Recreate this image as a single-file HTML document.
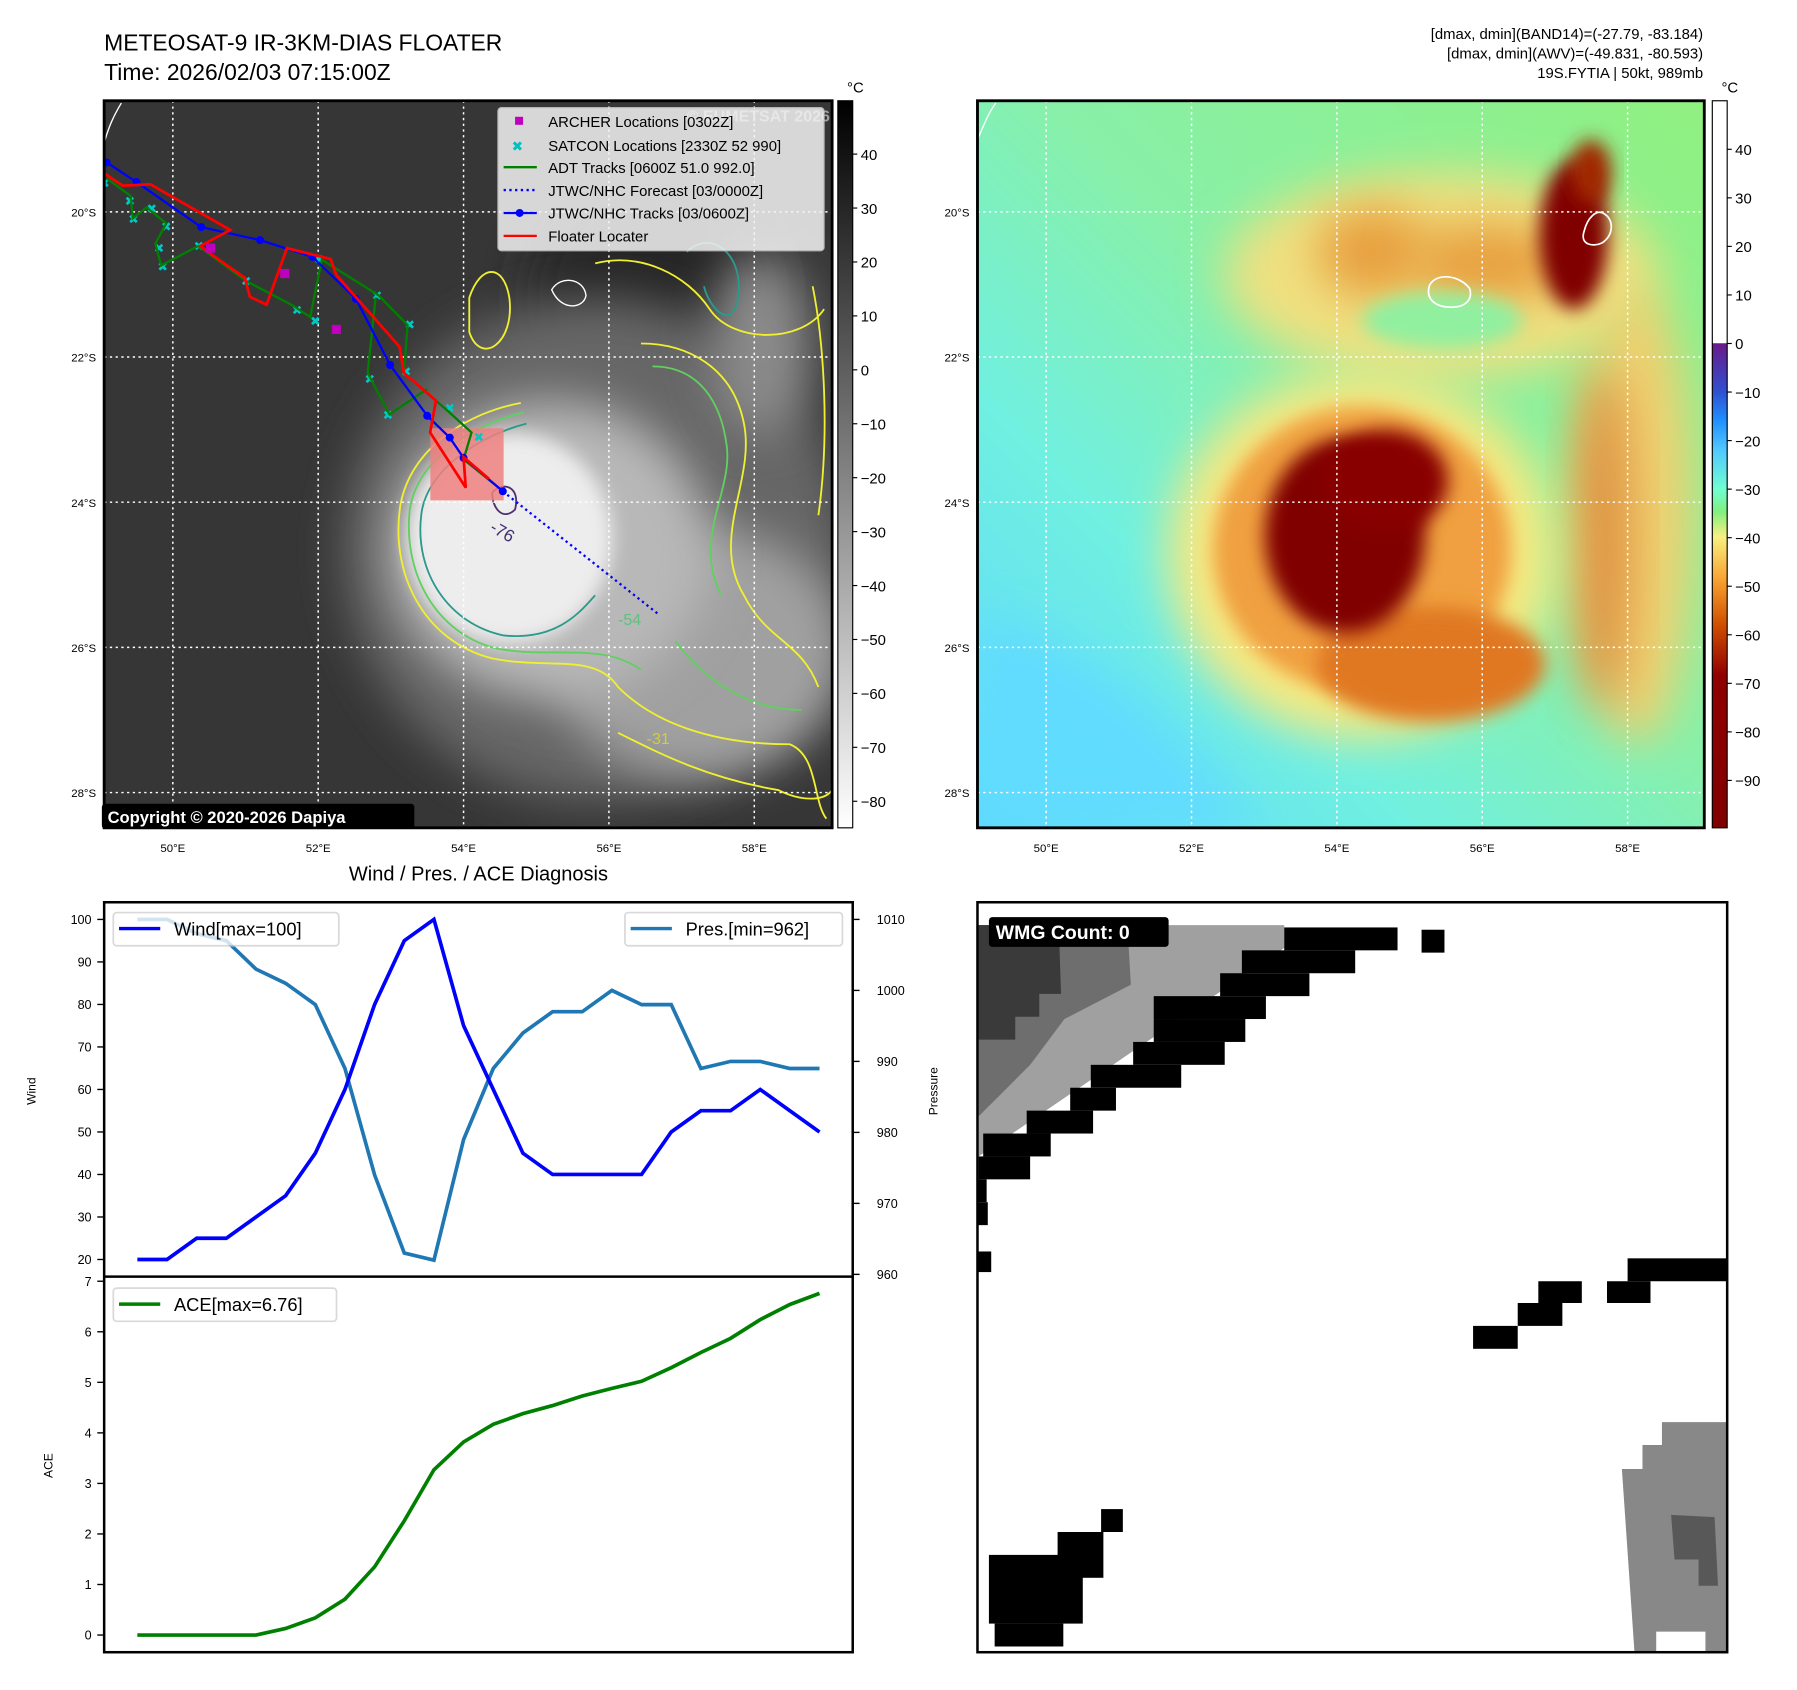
<!DOCTYPE html>
<html><head><meta charset="utf-8"><style>
html,body{margin:0;padding:0;background:#fff}
svg{display:block}
text{font-family:"Liberation Sans","DejaVu Sans",sans-serif}
</style></head><body>
<svg id="root" xmlns="http://www.w3.org/2000/svg" width="1797" height="1690" viewBox="0 0 1570 1476" preserveAspectRatio="none">
<defs>
<filter id="b8" x="-30%" y="-30%" width="160%" height="160%"><feGaussianBlur stdDeviation="8"/></filter>
<filter id="b20" x="-50%" y="-50%" width="200%" height="200%"><feGaussianBlur stdDeviation="20"/></filter>
<filter id="b4"><feGaussianBlur stdDeviation="4"/></filter>
<clipPath id="cl"><rect x="91" y="88" width="636" height="635"/></clipPath>
<clipPath id="cr"><rect x="854" y="88" width="635" height="635"/></clipPath>
<clipPath id="cb"><rect x="854" y="788" width="655" height="655"/></clipPath>
<linearGradient id="gbar" x1="0" y1="0" x2="0" y2="1"><stop offset="0" stop-color="#000"/><stop offset="1" stop-color="#fff"/></linearGradient>
<linearGradient id="cbar" x1="0" y1="88" x2="0" y2="723" gradientUnits="userSpaceOnUse">
<stop offset="0" stop-color="#fff"/><stop offset="0.333" stop-color="#fff"/><stop offset="0.334" stop-color="#6a1a8a"/>
<stop offset="0.40" stop-color="#3050d0"/><stop offset="0.44" stop-color="#2090ff"/><stop offset="0.48" stop-color="#50c8ff"/>
<stop offset="0.535" stop-color="#70ffd0"/><stop offset="0.565" stop-color="#80f080"/><stop offset="0.60" stop-color="#f8f080"/>
<stop offset="0.66" stop-color="#f8a030"/><stop offset="0.72" stop-color="#d05000"/><stop offset="0.79" stop-color="#900000"/><stop offset="1" stop-color="#800000"/></linearGradient>
<linearGradient id="rbg" x1="1" y1="0" x2="0" y2="1"><stop offset="0" stop-color="#90f080"/><stop offset="0.45" stop-color="#88f0a8"/><stop offset="0.7" stop-color="#70f0e0"/><stop offset="1" stop-color="#5ed8ff"/></linearGradient>
</defs>

<text x="91" y="44" font-size="20">METEOSAT-9 IR-3KM-DIAS FLOATER</text>
<text x="91" y="70" font-size="20">Time: 2026/02/03 07:15:00Z</text>
<g font-size="13" text-anchor="end">
<text x="1488" y="34">[dmax, dmin](BAND14)=(-27.79, -83.184)</text>
<text x="1488" y="51">[dmax, dmin](AWV)=(-49.831, -80.593)</text>
<text x="1488" y="68">19S.FYTIA | 50kt, 989mb</text>
</g>

<!-- LEFT MAP -->
<g clip-path="url(#cl)">
<rect x="91" y="88" width="636" height="635" fill="#363636"/>
<ellipse cx="570" cy="260" rx="110" ry="110" fill="#282828" filter="url(#b20)"/>
<ellipse cx="520" cy="480" rx="220" ry="220" fill="#666" filter="url(#b20)"/>
<ellipse cx="610" cy="570" rx="130" ry="110" fill="#a0a0a0" filter="url(#b20)"/>
<ellipse cx="480" cy="480" rx="140" ry="130" fill="#b8b8b8" filter="url(#b20)"/>
<ellipse cx="445" cy="470" rx="90" ry="92" fill="#ededed" filter="url(#b8)"/>
<ellipse cx="665" cy="300" rx="45" ry="80" fill="#8a8a8a" filter="url(#b20)"/>
<g fill="none" stroke-width="1.6">
<path d="M455,352 C410,360 360,390 350,440 C340,500 370,560 430,575 C480,585 520,570 540,600 C570,630 620,650 690,650 C715,660 710,700 722,715" stroke="#f0f030"/>
<path d="M458,360 C415,370 365,400 358,445 C352,500 380,552 432,566 C480,576 525,560 560,585" stroke="#60d060"/>
<path d="M460,370 C420,380 372,410 368,450 C362,500 392,545 440,555 C490,560 510,530 520,520" stroke="#2a9a8a"/>
<path d="M520,230 C560,220 600,240 620,270 C640,300 700,300 720,270" stroke="#f0f030"/>
<path d="M410,260 C420,230 440,230 445,260 C450,300 420,320 410,290 Z" stroke="#f0f030"/>
<path d="M560,300 C600,300 640,320 650,370 C660,420 620,470 650,520 C670,560 700,560 715,600" stroke="#f0f030"/>
<path d="M570,320 C610,320 630,350 635,390 C640,430 605,470 630,520" stroke="#60d060"/>
<path d="M600,220 C620,200 650,220 645,260 C640,290 620,270 615,250" stroke="#2a9a8a"/>
<path d="M590,560 C620,600 660,620 700,620" stroke="#60d060"/>
<path d="M540,640 C580,660 620,680 680,690 C700,700 720,700 727,690" stroke="#f0f030"/>
<path d="M710,250 C720,300 725,380 715,450" stroke="#f0f030"/>
<path d="M430,430 C440,420 455,425 450,445 C440,455 430,445 430,430" stroke="#503070"/>
<path d="M482,253 C490,240 510,243 512,258 C510,270 490,272 482,253 Z" stroke="#fff" stroke-width="1.2"/>
<path d="M91,125 C95,110 100,100 106,90" stroke="#fff" stroke-width="1.2"/>
</g>
<text x="428" y="470" font-size="15" fill="#403070" transform="rotate(30 440 465)">-76</text>
<text x="540" y="546" font-size="14" fill="#60c080">-54</text>
<text x="565" y="650" font-size="14" fill="#d0d030">-31</text>
<g id="leftgrid" stroke="#fff" stroke-width="1.3" stroke-dasharray="2,3"></g>
<rect x="376" y="374" width="64" height="63" fill="#f08080" opacity="0.85"/>
<g id="tracks"></g>
<text x="600" y="106" font-size="14" font-weight="bold" fill="#bbb" opacity="0.8">© EUMETSAT 2026</text>
</g>
<rect x="91" y="88" width="636" height="635" fill="none" stroke="#000" stroke-width="2.5"/>
<g>
<rect x="435" y="94" width="285" height="125" fill="#f4f4f4" opacity="0.85" stroke="#ccc" rx="3"/>
<g font-size="13">
<rect x="450" y="102" width="7" height="7" fill="#c000c0"/><text x="479" y="111">ARCHER Locations [0302Z]</text>
<text x="447" y="132" fill="#00c0c0" font-size="12" font-weight="bold">✖</text><text x="479" y="132">SATCON Locations [2330Z 52 990]</text>
<line x1="440" y1="146" x2="469" y2="146" stroke="#008000" stroke-width="2"/><text x="479" y="151">ADT Tracks [0600Z 51.0 992.0]</text>
<line x1="440" y1="166" x2="469" y2="166" stroke="#0000ff" stroke-width="2" stroke-dasharray="2,3"/><text x="479" y="171">JTWC/NHC Forecast [03/0000Z]</text>
<line x1="440" y1="186" x2="469" y2="186" stroke="#0000ff" stroke-width="2"/><circle cx="454" cy="186" r="3.5" fill="#0000ff"/><text x="479" y="191">JTWC/NHC Tracks [03/0600Z]</text>
<line x1="440" y1="206" x2="469" y2="206" stroke="#ff0000" stroke-width="2"/><text x="479" y="211">Floater Locater</text>
</g></g>
<rect x="89" y="702" width="273" height="22" rx="3" fill="#000"/>
<text x="94" y="719" font-size="14.5" font-weight="bold" fill="#fff">Copyright © 2020-2026 Dapiya</text>
<rect x="732" y="88" width="13" height="635" fill="url(#gbar)" stroke="#000" stroke-width="1"/>
<text x="740" y="81" font-size="13">°C</text>
<g id="lcb" font-size="13"></g>

<!-- RIGHT MAP -->
<g clip-path="url(#cr)">
<rect x="854" y="88" width="635" height="635" fill="url(#rbg)"/>
<path d="M854,540 C950,560 1030,640 1100,723 L854,723 Z" fill="#60dcff" filter="url(#b20)"/>
<ellipse cx="1260" cy="240" rx="190" ry="90" fill="#f0e080" filter="url(#b20)"/>
<ellipse cx="1200" cy="220" rx="50" ry="40" fill="#e8a040" filter="url(#b20)"/>
<ellipse cx="1300" cy="230" rx="70" ry="35" fill="#e8a040" filter="url(#b20)"/>
<ellipse cx="1260" cy="280" rx="70" ry="25" fill="#90f0a0" filter="url(#b8)"/>
<ellipse cx="1430" cy="450" rx="50" ry="200" fill="#f0d070" filter="url(#b20)"/>
<ellipse cx="1400" cy="470" rx="25" ry="150" fill="#e09040" filter="url(#b20)"/>
<ellipse cx="1190" cy="485" rx="170" ry="160" fill="#f8e880" filter="url(#b20)"/>
<ellipse cx="1190" cy="480" rx="130" ry="125" fill="#f0a040" filter="url(#b8)"/>
<ellipse cx="1250" cy="580" rx="100" ry="50" fill="#e07820" filter="url(#b8)"/>
<ellipse cx="1175" cy="468" rx="70" ry="85" fill="#800000" filter="url(#b8)"/>
<ellipse cx="1210" cy="420" rx="55" ry="45" fill="#880400" filter="url(#b8)"/>
<ellipse cx="1375" cy="205" rx="30" ry="65" fill="#800000" filter="url(#b8)"/>
<ellipse cx="1390" cy="150" rx="18" ry="28" fill="#a02800" filter="url(#b8)"/>
<path d="M1249,249 C1255,238 1275,240 1284,252 C1287,262 1280,270 1263,268 C1250,266 1246,258 1249,249 Z" fill="none" stroke="#fff" stroke-width="1.5"/>
<path d="M1384,202 C1387,190 1395,182 1402,187 C1410,192 1410,205 1400,212 C1392,216 1380,214 1384,202 Z" fill="none" stroke="#fff" stroke-width="1.5"/>
<path d="M854,122 C860,108 864,98 870,90" fill="none" stroke="#fff" stroke-width="1.2"/>
<g id="rightgrid" stroke="#fff" stroke-width="1.3" stroke-dasharray="2,3"></g>
</g>
<rect x="854" y="88" width="635" height="635" fill="none" stroke="#000" stroke-width="2.5"/>
<rect x="1496" y="88" width="13" height="635" fill="url(#cbar)" stroke="#000" stroke-width="1"/>
<text x="1504" y="81" font-size="13">°C</text>
<g id="rcb" font-size="13"></g>
<g id="maplabels" font-size="10"></g>

<!-- CHART -->
<text x="418" y="769" font-size="17.5" text-anchor="middle">Wind / Pres. / ACE Diagnosis</text>
<g id="chart"></g>
<rect x="91" y="788" width="654" height="655" fill="none" stroke="#000" stroke-width="2.2"/>
<line x1="91" y1="1115" x2="745" y2="1115" stroke="#000" stroke-width="2.2"/>
<text font-size="10.5" transform="translate(31 953) rotate(-90)" text-anchor="middle">Wind</text>
<text font-size="10.5" transform="translate(819 953) rotate(-90)" text-anchor="middle">Pressure</text>
<text font-size="10.5" transform="translate(46 1280) rotate(-90)" text-anchor="middle">ACE</text>
<g>
<rect x="99" y="797" width="197" height="29" rx="3" fill="#fff" opacity="0.8" stroke="#d0d0d0" stroke-width="1.5"/>
<line x1="104" y1="811" x2="140" y2="811" stroke="#0000ff" stroke-width="3"/>
<text x="152" y="817" font-size="16">Wind[max=100]</text></g>
<g>
<rect x="546" y="797" width="190" height="29" rx="3" fill="#fff" opacity="0.8" stroke="#d0d0d0" stroke-width="1.5"/>
<line x1="551" y1="811" x2="587" y2="811" stroke="#1f77b4" stroke-width="3"/>
<text x="599" y="817" font-size="16">Pres.[min=962]</text></g>
<g>
<rect x="99" y="1125" width="195" height="29" rx="3" fill="#fff" opacity="0.8" stroke="#d0d0d0" stroke-width="1.5"/>
<line x1="104" y1="1139" x2="140" y2="1139" stroke="#008000" stroke-width="3"/>
<text x="152" y="1145" font-size="16">ACE[max=6.76]</text></g>

<!-- WMG panel -->
<g clip-path="url(#cb)">
<rect x="854" y="788" width="655" height="655" fill="#fff"/>
<polygon points="855,808 1122,808 1122,828 855,1010" fill="#a0a0a0"/>
<polygon points="855,808 985,808 988,860 930,890 900,930 875,955 855,975" fill="#6e6e6e"/>
<polygon points="855,808 925,808 927,868 908,868 908,888 887,888 887,908 855,908" fill="#3a3a3a"/>
<g id="wmgblack" fill="#000"></g>
<polygon points="1452,1242 1509,1242 1509,1443 1490,1443 1490,1425 1447,1425 1447,1443 1428,1443 1417,1283 1435,1283 1435,1262 1452,1262" fill="#888"/>
<polygon points="1460,1323 1498,1325 1501,1385 1484,1385 1484,1362 1463,1362" fill="#585858"/>
</g>
<rect x="854" y="788" width="655" height="655" fill="none" stroke="#000" stroke-width="2.2"/>
<rect x="864" y="801" width="157" height="26" rx="3" fill="#000"/>
<text x="870" y="820" font-size="17" font-weight="bold" fill="#fff">WMG Count: 0</text>
</svg>
<script>
const windVals=[20,20,25,25,30,35,45,60,80,95,100,75,60,45,40,40,40,40,50,55,55,60,55,50];
const presVals=[1010,1010,1008,1007,1003,1001,998,989,974,963,962,979,989,994,997,997,1000,998,998,989,990,990,989,989];
const aceVals=[0,0,0,0,0,0.13,0.34,0.71,1.35,2.26,3.27,3.82,4.17,4.38,4.54,4.73,4.88,5.02,5.29,5.59,5.87,6.24,6.54,6.76];
const windTicks=[20,30,40,50,60,70,80,90,100];
const presTicks=[960,970,980,990,1000,1010];
const aceTicks=[0,1,2,3,4,5,6,7];
const jtwcLon=[49.09,49.50,50.39,51.20,51.92,52.52,52.99,53.50,53.81,54.00,54.54];
const jtwcLat=[19.32,19.59,20.21,20.39,20.62,21.20,22.11,22.81,23.11,23.39,23.85];
const fcstLon=[54.54,56.69];
const fcstLat=[23.85,25.55];
const floaterLon=[49.07,49.31,49.69,50.79,50.38,50.55,50.99,51.06,51.29,51.57,52.17,52.25,53.12,53.18,53.62,53.54,54.03,54.00,54.35];
const floaterLat=[19.48,19.64,19.62,20.25,20.47,20.60,20.91,21.17,21.28,20.50,20.65,20.87,21.86,22.22,22.60,23.04,23.80,23.38,23.68];
const adtLon=[49.09,49.42,49.45,49.64,49.91,49.76,49.84,50.35,51.02,51.65,51.89,51.95,52.05,52.83,53.23,53.18,53.78,54.11,54.00,54.52];
const adtLat=[19.54,19.78,20.09,19.94,20.16,20.44,20.74,20.47,20.96,21.29,21.45,21.15,20.66,21.15,21.56,22.22,22.74,23.04,23.41,23.83];
const adt2Lon=[52.79,52.68,52.98,53.50];
const adt2Lat=[21.18,22.22,22.79,22.44];
const archerLon=[50.52,51.54,52.25];
const archerLat=[20.50,20.85,21.62];
const satconLon=[49.05,49.4,49.45,49.7,49.9,49.8,49.85,50.35,51.0,51.7,51.95,52.0,52.8,53.25,53.2,53.8,54.2,52.7,52.95];
const satconLat=[19.6,19.85,20.1,19.95,20.2,20.5,20.75,20.47,20.95,21.35,21.5,20.65,21.15,21.55,22.2,22.7,23.1,22.3,22.8];
const lonTicks=[50,52,54,56,58];
const latTicks=[20,22,24,26,28];
const irTicks=[40,30,20,10,0,-10,-20,-30,-40,-50,-60,-70,-80];
const awvTicks=[40,30,20,10,0,-10,-20,-30,-40,-50,-60,-70,-80,-90];

const NS='http://www.w3.org/2000/svg';
function mk(tag,attrs,parent){const e=document.createElementNS(NS,tag);for(const k in attrs)e.setAttribute(k,attrs[k]);parent.appendChild(e);return e;}
const chart=document.getElementById('chart');
const xI=i=>120+i*(596/23);
const yW=v=>1100-(v-20)*(297/80);
const yP=p=>1113-(p-960)*(310/50);
const yA=a=>1428-a*(309/7);
windTicks.forEach(t=>{const y=yW(t);mk('line',{x1:85,y1:y,x2:91,y2:y,stroke:'#000','stroke-width':1.2},chart);
 const tx=mk('text',{x:80,y:y+4,'font-size':11,'text-anchor':'end'},chart);tx.textContent=t;
 
 });
presTicks.forEach(t=>{const y=yP(t);mk('line',{x1:745,y1:y,x2:751,y2:y,stroke:'#000','stroke-width':1.2},chart);
 const tx=mk('text',{x:766,y:y+4,'font-size':11},chart);tx.textContent=t;
 
 });
aceTicks.forEach(t=>{const y=yA(t);mk('line',{x1:85,y1:y,x2:91,y2:y,stroke:'#000','stroke-width':1.2},chart);
 const tx=mk('text',{x:80,y:y+4,'font-size':11,'text-anchor':'end'},chart);tx.textContent=t;
 
 });
function line(vals,fy,color,name){const p=mk('polyline',{points:vals.map((v,i)=>xI(i)+','+fy(v)).join(' '),fill:'none',stroke:color,'stroke-width':3.2},chart);
 
 }
line(presVals,yP,'#1f77b4','pressure-line');
line(windVals,yW,'#0000ff','wind-line');
line(aceVals,yA,'#008000','ace-line');

const px=lon=>151+(lon-50)*63.5;
const py=lat=>185+(lat-20)*63.4;
const tracks=document.getElementById('tracks');
function trk(lons,lats,color,w,dash,name){const a={points:lons.map((l,i)=>px(l)+','+py(lats[i])).join(' '),fill:'none',stroke:color,'stroke-width':w};if(dash)a['stroke-dasharray']=dash;
 const p=mk('polyline',a,tracks);
 
 }
satconLon.forEach((l,i)=>{const t=mk('text',{x:px(l)-4,y:py(satconLat[i])+4,'font-size':11,'font-weight':'bold',fill:'#00c8c8'},tracks);t.textContent='✖';
 
 });
trk(adtLon,adtLat,'#008000',2,null,'adt-track');
trk(adt2Lon,adt2Lat,'#008000',2,null,'adt-track-segment');
trk(fcstLon,fcstLat,'#0000ff',2,'2,3','jtwc-forecast');
trk(jtwcLon,jtwcLat,'#0000ff',2,null,'jtwc-track');
jtwcLon.forEach((l,i)=>{const c=mk('circle',{cx:px(l),cy:py(jtwcLat[i]),r:3.5,fill:'#0000ff'},tracks);
 
 });
trk(floaterLon,floaterLat,'#ff0000',2.4,null,'floater-track');
archerLon.forEach((l,i)=>{const r=mk('rect',{x:px(l)-4,y:py(archerLat[i])-4,width:8,height:8,fill:'#c000c0'},tracks);
 
 });

const lg=document.getElementById('leftgrid'),rg=document.getElementById('rightgrid'),ml=document.getElementById('maplabels');
lonTicks.forEach(l=>{const x=px(l);mk('line',{x1:x,y1:88,x2:x,y2:723},lg);mk('line',{x1:x+763,y1:88,x2:x+763,y2:723},rg);
 [0,763].forEach(o=>{const t=mk('text',{x:x+o,y:744,'text-anchor':'middle'},ml);t.textContent=l+'°E';
 
 });});
latTicks.forEach(l=>{const y=py(l);mk('line',{x1:91,y1:y,x2:727,y2:y},lg);mk('line',{x1:854,y1:y,x2:1489,y2:y},rg);
 [0,763].forEach(o=>{const t=mk('text',{x:84+o,y:y+4,'text-anchor':'end'},ml);t.textContent=l+'°S';
 
 });});
const lcb=document.getElementById('lcb'),rcb=document.getElementById('rcb');
irTicks.forEach(t=>{const y=323-t*4.71;mk('line',{x1:745,y1:y,x2:749,y2:y,stroke:'#000'},lcb);
 const tx=mk('text',{x:752,y:y+5},lcb);tx.textContent=t<0?'\u2212'+(-t):t;
 
 });
awvTicks.forEach(t=>{const y=300-t*4.24;mk('line',{x1:1509,y1:y,x2:1513,y2:y,stroke:'#000'},rcb);
 const tx=mk('text',{x:1516,y:y+5},rcb);tx.textContent=t<0?'\u2212'+(-t):t;
 
 });
const wb=document.getElementById('wmgblack');
[[1122,810,1221,830],[1242,812,1262,832],[1085,830,1184,850],[1066,850,1144,870],[1008,870,1106,890],[1008,890,1088,910],[990,910,1070,930],[953,930,1032,950],[935,950,975,970],[897,970,955,990],[859,990,918,1010],[855,1010,900,1030],[854,1030,862,1050],[854,1050,863,1070],[854,1093,866,1111],
 [1422,1099,1509,1119],[1404,1119,1442,1138],[1344,1119,1382,1138],[1326,1138,1365,1158],[1287,1158,1326,1178],
 [864,1358,946,1418],[869,1418,929,1438],[924,1338,964,1378],[962,1318,981,1338]].forEach(r=>mk('rect',{x:r[0],y:r[1],width:r[2]-r[0],height:r[3]-r[1]},wb));
</script>
</body></html>
